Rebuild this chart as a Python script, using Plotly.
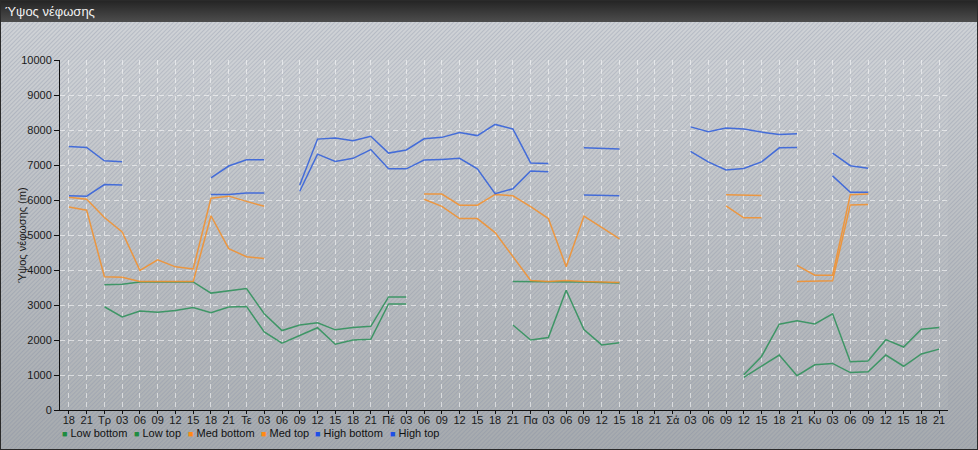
import base64
import plotly.graph_objects as go

# ---- data (3-hourly steps) ----
time_labels = ["18", "21",
               "Τρ", "03", "06", "09", "12", "15", "18", "21",
               "Τε", "03", "06", "09", "12", "15", "18", "21",
               "Πέ", "03", "06", "09", "12", "15", "18", "21",
               "Πα", "03", "06", "09", "12", "15", "18", "21",
               "Σά", "03", "06", "09", "12", "15", "18", "21",
               "Κυ", "03", "06", "09", "12", "15", "18", "21"]
N = None
low_bottom = [N, N, 2950, 2660, 2830, 2790, 2840, 2930, 2780, 2940,
              2960, 2230, 1910, 2140, 2350, 1880, 2000, 2020, 3030, 3030,
              N, N, N, N, N, 2430, 2000, 2070, 3420, 2300,
              1860, 1920, N, N, N, N, N, N, 930, 1250,
              1570, 980, 1290, 1330, 1070, 1090, 1570, 1250, 1600, 1740]
low_top = [N, N, 3580, 3590, 3660, 3660, 3660, 3660, 3340, 3410,
           3470, 2750, 2270, 2430, 2490, 2290, 2360, 2390, 3230, 3230,
           N, N, N, N, N, 3670, 3670, 3650, 3670, 3660,
           3640, 3630, N, N, N, N, N, N, 1010, 1530,
           2450, 2550, 2460, 2750, 1380, 1400, 2010, 1800, 2310, 2360]
med_bottom = [5800, 5710, 3810, 3790, 3670, 3670, 3670, 3670, 5550, 4610,
              4380, 4330, N, N, N, N, N, N, N, N,
              6020, 5820, 5470, 5470, 5070, 4390, 3700, 3670, 3700, 3670,
              3660, 3640, N, N, N, N, N, 5830, 5490, 5490,
              N, 3670, 3690, 3690, 5860, 5870, N, N, N, N]
med_top = [6080, 6020, 5500, 5090, 3990, 4290, 4090, 4030, 6050, 6110,
           5960, 5820, N, N, N, N, N, N, N, N,
           6170, 6170, 5850, 5850, 6160, 6120, 5810, 5470, 4090, 5540,
           5220, 4890, N, N, N, N, N, 6150, 6150, 6130,
           N, 4130, 3850, 3850, 6150, 6170, N, N, N, N]
high_bottom = [6120, 6110, 6440, 6430, N, N, N, N, 6160, 6160,
               6200, 6200, N, 6250, 7310, 7100, 7190, 7440, 6890, 6890,
               7140, 7160, 7190, 6890, 6180, 6320, 6830, 6810, N, 6140,
               6130, 6120, N, N, N, 7390, 7090, 6860, 6900, 7090,
               7490, 7500, N, 6690, 6220, 6220, N, N, N, N]
high_top = [7530, 7500, 7120, 7090, N, N, N, N, 6630, 6970,
            7150, 7150, N, 6430, 7740, 7770, 7690, 7820, 7340, 7430,
            7750, 7790, 7930, 7840, 8160, 8030, 7060, 7040, N, 7490,
            7470, 7460, N, N, N, 8090, 7950, 8060, 8030, 7940,
            7870, 7890, N, 7340, 6980, 6910, N, N, N, N]
y_ticks = [0, 1000, 2000, 3000, 4000, 5000, 6000, 7000, 8000, 9000, 10000]

series = [
    ("Low bottom", low_bottom, "#2b9158", "#1e8c40"),
    ("Low top", low_top, "#2b9158", "#1e8c40"),
    ("Med bottom", med_bottom, "#f5902a", "#ff8a14"),
    ("Med top", med_top, "#f5902a", "#ff8a14"),
    ("High bottom", high_bottom, "#2f5edc", "#1d4fe6"),
    ("High top", high_top, "#2f5edc", "#1d4fe6"),
]

W, H = 978, 450
ML, MR, MT, MB = 60, 30, 60, 40
PW, PH = W - ML - MR, H - MT - MB
FONT = "Arial, Liberation Sans, sans-serif"

x_idx = list(range(len(time_labels)))

fig = go.Figure()
for name, vals, col, _ in series:
    fig.add_trace(go.Scatter(
        x=x_idx, y=vals, name=name, mode="lines",
        line=dict(color=col, width=1.5), opacity=0.85,
        showlegend=False, connectgaps=False,
        hovertemplate="%{y} m<extra>" + name + "</extra>"))

# background (gradient + hatch + title bar) as an svg image
svg = f'''<svg xmlns="http://www.w3.org/2000/svg" width="{W}" height="{H}">
<defs>
<linearGradient id="g" x1="0" y1="0" x2="0" y2="1">
<stop offset="0" stop-color="#d1d4d8"/><stop offset="1" stop-color="#a6aaae"/></linearGradient>
<linearGradient id="t" x1="0" y1="0" x2="0" y2="1">
<stop offset="0" stop-color="#232323"/><stop offset="1" stop-color="#4d4d4d"/></linearGradient>
<pattern id="h" width="3" height="3" patternUnits="userSpaceOnUse" patternTransform="rotate(45)">
<line x1="0.5" y1="0" x2="0.5" y2="3" stroke="#7f8aa0" stroke-opacity="0.30" stroke-width="1"/></pattern>
</defs>
<rect width="{W}" height="{H}" fill="url(#g)"/>
<rect width="{W}" height="{H}" fill="url(#h)"/>
<rect x="{ML}" y="{MT}" width="{PW}" height="{PH}" fill="#ffffff" fill-opacity="0.05"/>
<rect width="{W}" height="22" fill="url(#t)"/>
<rect x="0.5" y="0.5" width="{W-1}" height="{H-1}" fill="none" stroke="#2a2a2a" stroke-width="1"/>
</svg>'''
src = "data:image/svg+xml;base64," + base64.b64encode(svg.encode()).decode()
fig.add_layout_image(dict(
    source=src, xref="paper", yref="paper",
    x=-ML / PW, y=1 + MT / PH, sizex=W / PW, sizey=H / PH,
    xanchor="left", yanchor="top", sizing="stretch", layer="below"))

# legend drawn as text items below the axis
legend_x_px = [60, 132, 186, 259, 313, 388]
for (name, _, _, lcol), px in zip(series, legend_x_px):
    fig.add_annotation(
        xref="paper", yref="paper", x=(px - ML) / PW, y=-(433 - (MT + PH)) / PH,
        xanchor="left", yanchor="middle", showarrow=False,
        text=f'<span style="color:{lcol};font-size:9px">■</span> {name}',
        font=dict(family=FONT, size=11, color="#111111"))

# y axis title
fig.add_annotation(
    xref="paper", yref="paper", x=(22 - ML) / PW, y=0.5,
    xanchor="center", yanchor="middle", showarrow=False, textangle=-90,
    text="Ύψος νέφωσης (m)", font=dict(family=FONT, size=11, color="#1a1a1a"))

fig.update_layout(
    width=W, height=H,
    margin=dict(l=ML, r=MR, t=MT, b=MB, pad=0),
    paper_bgcolor="rgba(0,0,0,0)", plot_bgcolor="rgba(0,0,0,0)",
    title=dict(text="Ύψος νέφωσης", xref="container", yref="container",
               x=5 / W, xanchor="left", y=1 - 11 / H, yanchor="middle",
               font=dict(family=FONT, size=13, color="#f2f2f2")),
    font=dict(family=FONT, size=11, color="#1a1a1a"),
    showlegend=False,
    hovermode="closest",
)
fig.update_xaxes(
    range=[-0.5, len(time_labels) - 0.5],
    tickvals=x_idx, ticktext=time_labels, tickangle=0,
    ticks="outside", ticklen=3, tickcolor="#111111", ticklabelstandoff=-3,
    showline=True, linecolor="#111111", linewidth=1,
    showgrid=True, gridcolor="rgba(255,255,255,0.55)", griddash="5px,4px", gridwidth=1,
    zeroline=False, tickfont=dict(size=11, color="#1a1a1a"), automargin=False)
fig.update_yaxes(
    range=[0, 10000], tickvals=y_ticks, tickformat="d",
    ticks="outside", ticklen=5, tickcolor="#111111",
    showline=True, linecolor="#111111", linewidth=1,
    showgrid=True, gridcolor="rgba(255,255,255,0.55)", griddash="5px,4px", gridwidth=1,
    zeroline=False, tickfont=dict(size=11, color="#1a1a1a"),
    automargin=False)

fig.write_html("out.html", config={"displayModeBar": False},
               post_script="document.body.style.margin='0';document.body.style.overflow='hidden';")
